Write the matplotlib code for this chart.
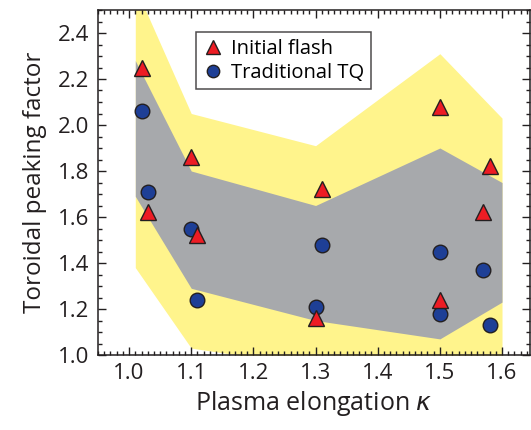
import numpy as np
import matplotlib.pyplot as plt
from matplotlib.ticker import MultipleLocator

plt.rcParams['font.family'] = ['Open Sans', 'DejaVu Sans']

# Initial flash (triangles)
flash_kappa = [1.02, 1.03, 1.10, 1.11, 1.30, 1.31, 1.50, 1.50, 1.57, 1.58]
flash_peak = [2.25, 1.62, 1.86, 1.52, 1.16, 1.72, 2.08, 1.24, 1.62, 1.82]

# Traditional TQ (circles)
tq_kappa = [1.02, 1.03, 1.10, 1.11, 1.30, 1.31, 1.50, 1.50, 1.57, 1.58]
tq_peak = [2.06, 1.71, 1.55, 1.24, 1.21, 1.48, 1.45, 1.18, 1.37, 1.13]

# shaded ranges
band_kappa = [1.01, 1.10, 1.30, 1.50, 1.60]
yellow_hi = [2.60, 2.05, 1.91, 2.31, 2.03]
yellow_lo = [1.38, 1.03, 0.95, 0.92, 0.95]
gray_hi = [2.28, 1.80, 1.65, 1.90, 1.75]
gray_lo = [1.69, 1.29, 1.15, 1.07, 1.23]

fig = plt.figure(figsize=(5.31, 4.30), dpi=100)
ax = fig.add_axes([98 / 531, 1 - 355 / 430, 432 / 531, 345 / 430])

ax.fill_between(band_kappa, yellow_lo, yellow_hi, color='#fff48c', lw=0, zorder=1)
ax.fill_between(band_kappa, gray_lo, gray_hi, color='#a7a9ac', lw=0, zorder=2)

ax.plot(flash_kappa, flash_peak, ls='none', marker='^', ms=12, mfc='#ed1c24',
        mec='#231f20', mew=1.0, label='Initial flash', zorder=4)
ax.plot(tq_kappa, tq_peak, ls='none', marker='o', ms=10.5, mfc='#1e3f96',
        mec='#231f20', mew=1.0, label='Traditional TQ', zorder=3)

ax.set_xlim(0.95, 1.645)
ax.set_ylim(1.0, 2.5)
ax.xaxis.set_major_locator(MultipleLocator(0.1))
ax.xaxis.set_minor_locator(MultipleLocator(0.01))
ax.yaxis.set_major_locator(MultipleLocator(0.2))
ax.yaxis.set_minor_locator(MultipleLocator(0.05))
ax.xaxis.set_major_formatter(plt.FormatStrFormatter('%.1f'))
ax.yaxis.set_major_formatter(plt.FormatStrFormatter('%.1f'))

ax.tick_params(which='both', direction='in', top=True, right=True, width=1.0,
               labelsize=16, colors='#231f20', pad=6)
ax.tick_params(which='major', length=6)
ax.tick_params(which='minor', length=3)
for s in ax.spines.values():
    s.set_linewidth(1.1)
    s.set_color('#231f20')

ax.set_xlabel('Plasma elongation $\\kappa$', fontsize=18, color='#231f20', labelpad=3)
ax.set_ylabel('Toroidal peaking factor', fontsize=17.5, color='#231f20', labelpad=8)

leg = ax.legend(loc='upper left', bbox_to_anchor=(0.228, 0.935), fontsize=14.5,
                frameon=True, fancybox=False, edgecolor='#231f20',
                handletextpad=0.4, borderpad=0.32, labelspacing=0.2,
                handlelength=1.0, borderaxespad=0, markerscale=0.85)
leg.get_frame().set_linewidth(1.1)

fig.savefig('out.png', dpi=100)
